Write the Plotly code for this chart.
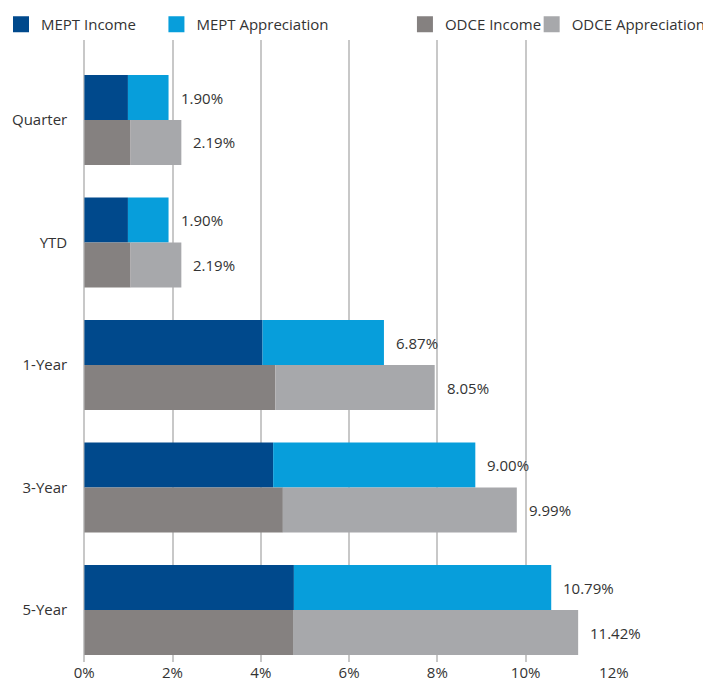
import plotly.graph_objects as go

categories = ['Quarter', 'YTD', '1-Year', '3-Year', '5-Year']

# segment values (in %)
mept_income = [0.99, 0.99, 4.04, 4.28, 4.75]
mept_apprec = [0.92, 0.92, 2.75, 4.58, 5.83]
odce_income = [1.05, 1.05, 4.33, 4.50, 4.73]
odce_apprec = [1.15, 1.15, 3.61, 5.30, 6.46]

# printed total labels
mept_labels = ['1.90%', '1.90%', '6.87%', '9.00%', '10.79%']
odce_labels = ['2.19%', '2.19%', '8.05%', '9.99%', '11.42%']

colors = {
    'MEPT Income': '#00498c',
    'MEPT Appreciation': '#079edb',
    'ODCE Income': '#858180',
    'ODCE Appreciation': '#a7a8ab',
}

# the page body has an 8px margin, so the figure itself is 703x675
W, H = 703, 675
font = 'Open Sans'
text_color = '#333333'
bar_w = 0.367
pos = list(range(len(categories)))

fig = go.Figure()

def add_stack(income, apprec, offset, inc_name, app_name):
    fig.add_trace(go.Bar(
        y=pos, x=income, orientation='h', width=bar_w, offset=offset,
        marker=dict(color=colors[inc_name], line=dict(width=0)),
        showlegend=False, name=inc_name
    ))
    fig.add_trace(go.Bar(
        y=pos, x=apprec, base=income, orientation='h', width=bar_w, offset=offset,
        marker=dict(color=colors[app_name], line=dict(width=0)),
        showlegend=False, name=app_name
    ))

add_stack(mept_income, mept_apprec, -bar_w, 'MEPT Income', 'MEPT Appreciation')
add_stack(odce_income, odce_apprec, 0, 'ODCE Income', 'ODCE Appreciation')

# one legend per entry so each can sit where the original puts it
# (pixel x of the swatch's left edge on the page)
legend_x = {'MEPT Income': 13, 'MEPT Appreciation': 170,
            'ODCE Income': 421, 'ODCE Appreciation': 549}
legend_cfg = {}
for k, name in enumerate(colors):
    lg = 'legend' if k == 0 else f'legend{k + 1}'
    fig.add_trace(go.Scatter(
        x=[None], y=[None], mode='markers', name=name, legend=lg,
        marker=dict(symbol='square', size=16, color=colors[name])
    ))
    # keep the legend box inside the figure so it does not push the margins
    legend_cfg[lg] = dict(
        orientation='h', x=(legend_x[name] - 13) / W, y=1,
        xanchor='left', yanchor='top', bgcolor='rgba(0,0,0,0)',
        indentation=-7,
        font=dict(family=font, size=15, color=text_color)
    )

annotations = []
for i in pos:
    annotations.append(dict(
        x=mept_income[i] + mept_apprec[i], y=i - bar_w / 2, text=mept_labels[i],
        xanchor='left', yanchor='middle', xshift=10, showarrow=False,
        font=dict(family=font, size=15, color=text_color)
    ))
    annotations.append(dict(
        x=odce_income[i] + odce_apprec[i], y=i + bar_w / 2, text=odce_labels[i],
        xanchor='left', yanchor='middle', xshift=10, showarrow=False,
        font=dict(family=font, size=15, color=text_color)
    ))

fig.update_layout(
    barmode='overlay',
    width=W, height=H,
    margin=dict(l=0, r=0, t=0, b=0),
    plot_bgcolor='white', paper_bgcolor='white',
    font=dict(family=font, size=15, color=text_color),
    annotations=annotations,
    xaxis=dict(
        domain=[77 / W, 612 / W],
        range=[0, 12], dtick=2, ticksuffix='%',
        showgrid=True, gridcolor='#c8c8c8', gridwidth=1.5,
        zeroline=True, zerolinecolor='#c8c8c8', zerolinewidth=1.5,
        showline=False, ticks='', automargin=False
    ),
    yaxis=dict(
        domain=[21 / H, 643 / H],
        range=[4.424, -0.653], tickvals=pos, ticktext=categories,
        showgrid=False, zeroline=False, showline=False,
        ticks='', ticklabelstandoff=16, automargin=False
    ),
    **legend_cfg
)

fig.write_html('out.html')
